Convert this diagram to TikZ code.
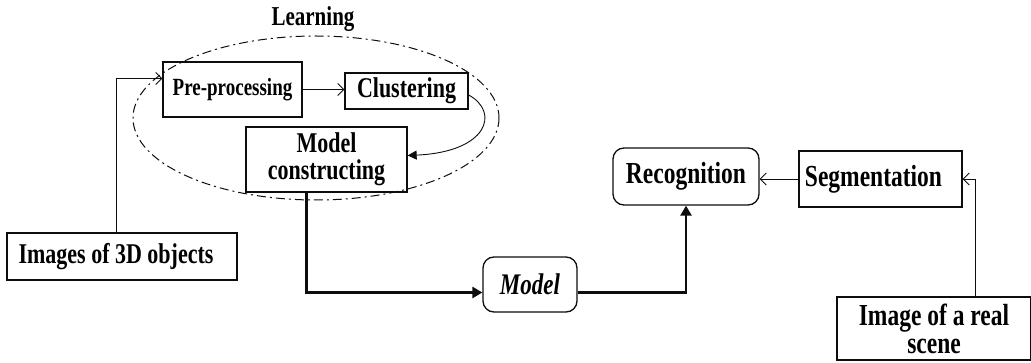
\documentclass[tikz,border=0pt]{standalone}
\usepackage{fontspec}
\setmainfont{Liberation Serif}
\usetikzlibrary{arrows.meta}
\newcommand{\tallt}[1]{\scalebox{1}[1.3]{#1}}
\begin{document}
\begin{tikzpicture}[x=1pt,y=-1pt]
  \definecolor{kInk}{rgb}{0.05,0.05,0.05}
  \tikzset{
    stagebox/.style={draw=kInk,line width=1.3pt,inner sep=0pt,align=center,
      font=\fontsize{22}{27}\selectfont\bfseries},
    roundbox/.style={stagebox,rounded corners=11pt},
    bigtext/.style={font=\fontsize{23.5}{28}\selectfont\bfseries},
    thinarrow/.style={draw=kInk,line width=0.9pt,-{Straight Barb[length=6pt,width=12pt]}},
    thickarrow/.style={draw=kInk,line width=2.6pt,-{Triangle[length=10pt,width=11pt]}}
  }
  \useasboundingbox (0,0) rectangle (1031,363);

  \draw[kInk,line width=1pt,dash pattern=on 9pt off 4pt on 2pt off 4pt] (316,118) ellipse [x radius=183,y radius=82];
  \node[font=\fontsize{21}{21}\selectfont\bfseries] (learn) at (313,19) {\tallt{Learning}};

  \node[stagebox,minimum width=139pt,minimum height=55pt,font=\fontsize{19}{19}\selectfont\bfseries] (pre) at (232.5,89.5) {\tallt{Pre-processing}};
  \node[stagebox,minimum width=123pt,minimum height=36pt] (clust) at (406.5,91) {\tallt{Clustering}};
  \node[stagebox,minimum width=161pt,minimum height=65pt] (build) at (326.5,159.5) {\tallt{Model}\\\tallt{constructing}};
  \node[stagebox,minimum width=230pt,minimum height=47pt] (imgs) at (122,256.5) {\tallt{Images of 3D objects}\hspace{12pt}};
  \node[roundbox,minimum width=94pt,minimum height=55pt,font=\fontsize{23}{23}\selectfont\bfseries\itshape] (model) at (530,284.5) {\tallt{Model}};
  \node[roundbox,bigtext,minimum width=146pt,minimum height=57pt] (recog) at (686,176.5) {\tallt{Recognition}};
  \node[stagebox,bigtext,minimum width=163pt,minimum height=56pt] (seg) at (880.5,179) {\tallt{Segmentation}\hspace{14pt}};
  \node[stagebox,bigtext,minimum width=194pt,minimum height=63pt] (scene) at (934,328.5) {\tallt{Image of a real}\\\tallt{scene}};

  \draw[thinarrow] ([xshift=-6pt]imgs.north) |- ([yshift=11pt]pre.west);
  \draw[thinarrow] (pre.east) -- (pre.east -| clust.west);
  \draw[thinarrow,-{Triangle[length=9pt,width=9pt]}] ([yshift=-4pt]clust.east) .. controls (500,112) and (488,152) .. ([yshift=4pt]build.east);
  \draw[thickarrow] ([xshift=-20pt]build.south) |- ([yshift=-8pt]model.west);
  \draw[thickarrow] ([yshift=-8pt]model.east) -| (recog.south);
  \draw[thinarrow] (seg.west) -- (seg.west -| recog.east);
  \draw[thinarrow] ([xshift=41pt]scene.north) |- (seg.east);
\end{tikzpicture}
\end{document}
